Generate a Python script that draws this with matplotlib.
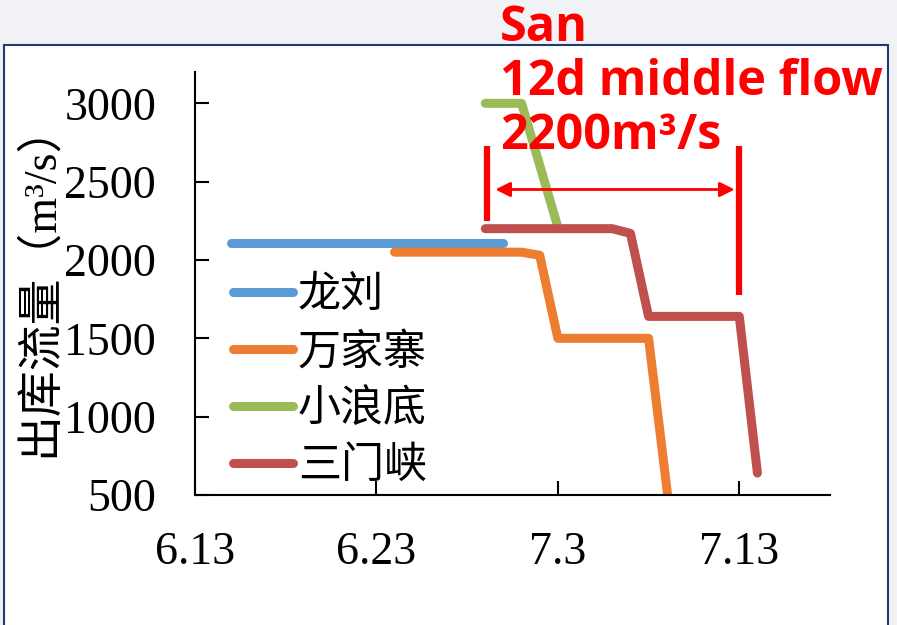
import matplotlib
matplotlib.use('Agg')
import matplotlib.pyplot as plt
from matplotlib.patches import Rectangle

# days counted from 6.13
tick_days = [0, 10, 20, 30]
tick_labels = ['6.13', '6.23', '7.3', '7.13']

longliu_x = [2, 17]
longliu_y = [2110, 2110]

wanjiazhai_x = [11, 18, 19, 20, 25, 26.05]
wanjiazhai_y = [2050, 2050, 2030, 1500, 1500, 500]

xiaolangdi_x = [16, 18, 20]
xiaolangdi_y = [3000, 3000, 2210]

sanmenxia_x = [16, 23, 24, 25, 30, 31]
sanmenxia_y = [2200, 2200, 2170, 1640, 1640, 640]

names = ['龙刘', '万家寨', '小浪底', '三门峡']
colors = ['#5b9bd5', '#ed7d31', '#9bbb59', '#c0504d']

# annotation: 12 day window
win_start, win_end = 16.1, 30
bar_left = [2250, 2730]
bar_right = [1775, 2730]
arrow_y = 2450
note = 'San\n12d middle flow\n2200m³/s'

fig = plt.figure(figsize=(8.97, 6.25), dpi=100)
fig.patch.set_facecolor('#f0f2f5')
frame = Rectangle((4 / 897, -0.1), 884 / 897, 1.1 - 45 / 625, transform=fig.transFigure,
                  facecolor='white', edgecolor='#1f3b73', linewidth=1.5, zorder=-10)
fig.patches.append(frame)

ax = fig.add_axes([195 / 897, 1 - 495 / 625, 635 / 897, 423 / 625])
ax.set_facecolor('none')

series = [(longliu_x, longliu_y), (wanjiazhai_x, wanjiazhai_y),
          (xiaolangdi_x, xiaolangdi_y), (sanmenxia_x, sanmenxia_y)]
lines = []
for i in range(4):
    x, y = series[i]
    ln, = ax.plot(x, y, color=colors[i], linewidth=6.5, solid_capstyle='round',
                  solid_joinstyle='round', label=names[i])
    lines.append(ln)
# green drawn under red
lines[2].set_zorder(1.5)
lines[3].set_zorder(2.5)

ax.set_xlim(0, 35)
ax.set_ylim(500, 3200)
ax.set_xticks(tick_days)
ax.set_xticklabels(tick_labels)
ax.set_yticks([500, 1000, 1500, 2000, 2500, 3000])
for s in ['top', 'right']:
    ax.spines[s].set_visible(False)
for s in ['left', 'bottom']:
    ax.spines[s].set_linewidth(1.5)
ax.tick_params(axis='both', direction='in', length=10, width=1.5,
               labelsize=33, colors='black')
ax.tick_params(axis='x', pad=26)
ax.tick_params(axis='y', pad=28)
for lab in ax.get_xticklabels() + ax.get_yticklabels():
    lab.set_family('Liberation Serif')

ax.set_ylabel('出库流量（m³/s）', fontsize=33, family=['Liberation Serif', 'Noto Sans CJK SC'])
ax.yaxis.set_label_coords(-133 / 635, 0.51)

leg = ax.legend(loc='upper left', bbox_to_anchor=(0.06, 0.524), frameon=False,
                prop={'family': 'Noto Sans CJK SC', 'size': 31},
                handlelength=1.4, handletextpad=0.1, labelspacing=0.3, borderaxespad=0,
                borderpad=0)
for h in leg.get_lines():
    h.set_solid_capstyle('round')

# annotation marks
ax.plot([win_start, win_start], bar_left, color='red', linewidth=4.5, solid_capstyle='butt', zorder=4)
ax.plot([win_end, win_end], bar_right, color='red', linewidth=4.5, solid_capstyle='butt', zorder=4)
ax.annotate('', xy=(win_start + 0.3, arrow_y), xytext=(win_end - 0.1, arrow_y),
            arrowprops=dict(arrowstyle='<|-|>', color='red', lw=2, mutation_scale=22), zorder=4)

fig.text(500 / 897, 1 - 4 / 625, note, color='red', fontsize=35, fontweight='bold',
         family='Open Sans', va='top', ha='left', linespacing=1.14)

fig.savefig('out.png', dpi=100, facecolor=fig.get_facecolor())
